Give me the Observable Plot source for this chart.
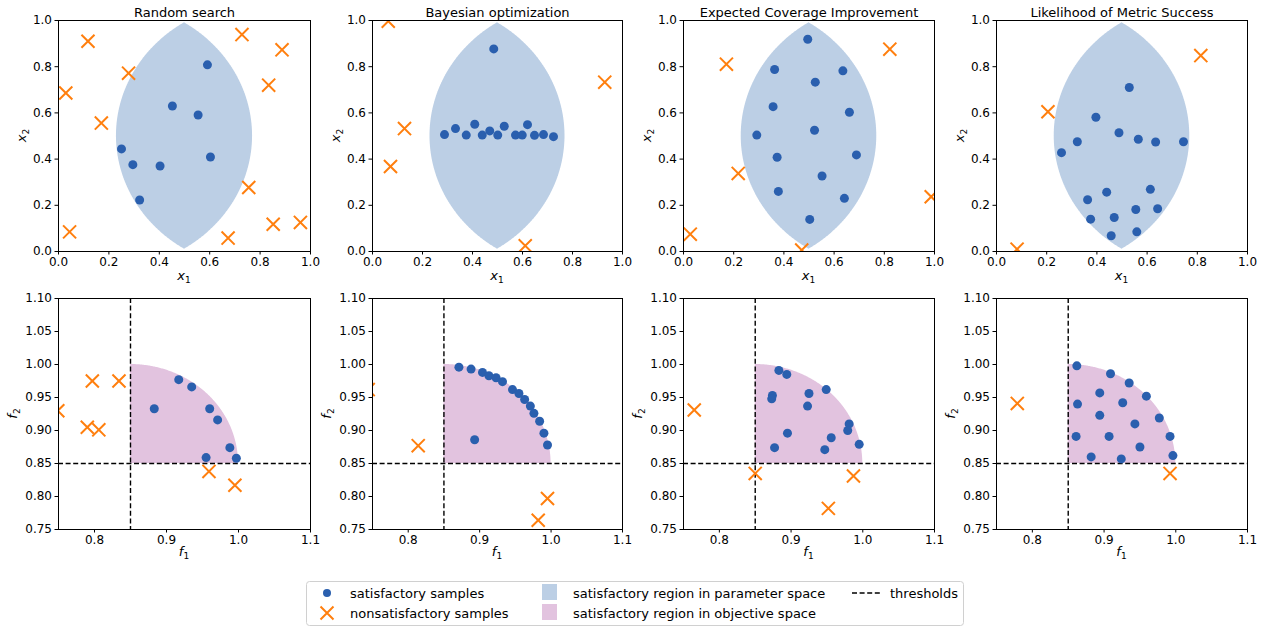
<!DOCTYPE html>
<html><head><meta charset="utf-8">
<script src="https://cdn.jsdelivr.net/npm/d3@7"></script>
<script src="https://cdn.jsdelivr.net/npm/@observablehq/plot@0.6"></script>
<style>
body{margin:0;background:#fff;font-family:"DejaVu Sans",sans-serif;}
#root{position:relative;width:1265px;height:627px;overflow:hidden;background:#fff;}
#root svg{position:absolute;overflow:visible;}
</style></head><body><div id="root"></div>
<script>
// ---------- data ----------
const titles = ["Random search", "Bayesian optimization", "Expected Coverage Improvement", "Likelihood of Metric Success"];

// parameter space (x1, x2)
const randomParamSat = [[0.591,0.808],[0.452,0.630],[0.554,0.591],[0.250,0.444],[0.603,0.409],[0.295,0.376],[0.403,0.370],[0.322,0.223]];
const randomParamUnsat = [[0.117,0.910],[0.728,0.939],[0.887,0.873],[0.278,0.772],[0.834,0.720],[0.029,0.686],[0.170,0.556],[0.755,0.277],[0.044,0.085],[0.673,0.058],[0.852,0.118],[0.960,0.126]];
const bayesParamSat = [[0.485,0.877],[0.288,0.506],[0.332,0.532],[0.375,0.504],[0.409,0.551],[0.439,0.504],[0.469,0.522],[0.501,0.504],[0.527,0.542],[0.572,0.504],[0.599,0.504],[0.620,0.549],[0.648,0.503],[0.684,0.506],[0.724,0.497]];
const bayesParamUnsat = [[0.063,0.997],[0.128,0.532],[0.072,0.368],[0.929,0.733],[0.611,0.025]];
const eciParamSat = [[0.495,0.919],[0.363,0.788],[0.635,0.782],[0.525,0.733],[0.357,0.627],[0.661,0.603],[0.522,0.525],[0.292,0.504],[0.373,0.408],[0.689,0.418],[0.552,0.327],[0.378,0.260],[0.641,0.230],[0.503,0.139]];
const eciParamUnsat = [[0.171,0.811],[0.822,0.876],[0.218,0.338],[0.027,0.075],[0.471,0.006],[0.987,0.237]];
const lmsParamSat = [[0.529,0.710],[0.396,0.581],[0.488,0.514],[0.565,0.486],[0.634,0.474],[0.745,0.475],[0.322,0.475],[0.259,0.428],[0.439,0.257],[0.613,0.269],[0.363,0.224],[0.375,0.140],[0.469,0.147],[0.555,0.182],[0.642,0.185],[0.457,0.068],[0.559,0.085]];
const lmsParamUnsat = [[0.205,0.605],[0.814,0.848],[0.082,0.010]];

// objective space (f1, f2)
const randomObjSat = [[0.917,0.977],[0.935,0.966],[0.883,0.933],[0.960,0.933],[0.971,0.916],[0.988,0.874],[0.955,0.859],[0.997,0.858]];
const randomObjUnsat = [[0.797,0.975],[0.834,0.975],[0.749,0.930],[0.790,0.905],[0.806,0.901],[0.959,0.838],[0.995,0.817]];
const bayesObjSat = [[0.871,0.996],[0.888,0.993],[0.904,0.988],[0.913,0.983],[0.923,0.980],[0.932,0.974],[0.946,0.962],[0.955,0.956],[0.963,0.947],[0.971,0.937],[0.976,0.926],[0.984,0.914],[0.990,0.896],[0.995,0.878],[0.893,0.886]];
const bayesObjUnsat = [[0.814,0.877],[0.995,0.797],[0.982,0.764],[0.744,0.962]];
const eciObjSat = [[0.883,0.991],[0.894,0.985],[0.949,0.962],[0.925,0.956],[0.874,0.953],[0.873,0.948],[0.923,0.937],[0.981,0.910],[0.979,0.900],[0.895,0.896],[0.956,0.889],[0.995,0.879],[0.877,0.874],[0.947,0.871]];
const eciObjUnsat = [[0.765,0.931],[0.850,0.835],[0.987,0.831],[0.952,0.782]];
const lmsObjSat = [[0.862,0.998],[0.909,0.986],[0.935,0.972],[0.894,0.957],[0.959,0.952],[0.863,0.940],[0.926,0.942],[0.894,0.923],[0.977,0.919],[0.943,0.910],[0.861,0.891],[0.907,0.891],[0.992,0.891],[0.950,0.875],[0.882,0.860],[0.924,0.857],[0.996,0.862]];
const lmsObjUnsat = [[0.779,0.941],[0.992,0.835]];

const thresholds = [0.85, 0.85];        // f1, f2 thresholds
const paramTicks = [0, 0.2, 0.4, 0.6, 0.8, 1.0];
const objXTicks = [0.8, 0.9, 1.0, 1.1];
const objYTicks = [0.75, 0.80, 0.85, 0.90, 0.95, 1.00, 1.05, 1.10];

// region geometry (two-circle lens in parameter space, quarter disc in objective space)
const lens = {cx: 0.5, cy: 0.5, offset: 0.31, radius: 0.58};
const quarter = {cx: 0.85, cy: 0.85, radius: 0.15};

// ---------- styles / layout ----------
const C_SAT = "#2a5fae", C_UNSAT = "#ff7f0e", C_PARAM = "#bccfe5", C_OBJ = "#e2c3df";
const frameX = [[58,252],[372,250],[683,251],[996,251]];
const frameY = [[20,231],[298,231]];
const M = {l: 60, r: 20, t: 22, b: 45};

const lensPts = d3.range(0, 201).map(i => {
  const hh = Math.sqrt(lens.radius**2 - lens.offset**2);
  const y = lens.cy - hh + 2*hh*i/200;
  const s = Math.sqrt(Math.max(0, lens.radius**2 - (y-lens.cy)**2));
  return {y, xl: lens.cx + lens.offset - s, xr: lens.cx - lens.offset + s};
});
const quarterPts = d3.range(0, 201).map(i => {
  const t = Math.PI/2 * i/200;
  return {x: quarter.cx + quarter.radius*Math.cos(t), y: quarter.cy + quarter.radius*Math.sin(t)};
});

const root = document.getElementById("root");

function panel(col, row, sat, unsat) {
  const [fx, w] = frameX[col];
  const [fy, h] = frameY[row];
  const isParam = row === 0;
  const marks = [];
  if (isParam) {
    marks.push(Plot.areaX(lensPts, {y: "y", x1: "xl", x2: "xr", fill: C_PARAM, curve: "linear"}));
  } else {
    marks.push(Plot.areaY(quarterPts, {x: "x", y1: quarter.cy, y2: "y", fill: C_OBJ, curve: "linear"}));
    marks.push(Plot.ruleX([thresholds[0]], {stroke: "black", strokeWidth: 1.4, strokeDasharray: "5,2.6", clip: true}));
    marks.push(Plot.ruleY([thresholds[1]], {stroke: "black", strokeWidth: 1.4, strokeDasharray: "5,2.6", clip: true}));
  }
  marks.push(Plot.dot(sat, {x: d => d[0], y: d => d[1], r: 4.5, fill: C_SAT, stroke: null, clip: true}));
  marks.push(Plot.dot(unsat, {x: d => d[0], y: d => d[1], r: 6, symbol: "times", stroke: C_UNSAT, strokeWidth: 2, clip: true}));
  marks.push(Plot.frame({stroke: "black", strokeWidth: 1}));
  marks.push(Plot.axisX({ticks: isParam ? paramTicks : objXTicks, tickFormat: d3.format(".1f"), tickSize: 3.5, tickPadding: 2.5, label: null}));
  marks.push(Plot.axisY({ticks: isParam ? paramTicks : objYTicks, tickFormat: d3.format(isParam ? ".1f" : ".2f"), tickSize: 3.5, tickPadding: 3, label: null}));
  if (isParam) {
    marks.push(Plot.text([titles[col]], {frameAnchor: "top", lineAnchor: "bottom", dy: -4, fontSize: 13}));
  }
  const svg = Plot.plot({
    width: M.l + w + M.r,
    height: M.t + h + M.b,
    marginLeft: M.l, marginRight: M.r, marginTop: M.t, marginBottom: M.b,
    x: {domain: isParam ? [0, 1] : [0.75, 1.1]},
    y: {domain: isParam ? [0, 1] : [0.75, 1.1]},
    style: {fontFamily: "DejaVu Sans", fontSize: "12px", color: "black", background: "transparent", overflow: "visible"},
    marks
  });
  svg.style.left = (fx - M.l) + "px";
  svg.style.top = (fy - M.t) + "px";
  const s = d3.select(svg);
  const sym = isParam ? "x" : "f";
  // x-axis label
  const tx = s.append("text").attr("x", M.l + w/2).attr("y", M.t + h + (isParam ? 29 : 27))
    .attr("text-anchor", "middle").attr("font-family", "DejaVu Sans").attr("font-size", 13).attr("fill", "black");
  tx.append("tspan").attr("font-style", "italic").text(sym);
  tx.append("tspan").attr("font-size", 9).attr("dy", 3).text("1");
  // y-axis label
  const yx = M.l - (isParam ? 32 : 41), yy = M.t + h/2;
  const ty = s.append("text").attr("transform", `translate(${yx},${yy}) rotate(-90)`)
    .attr("text-anchor", "middle").attr("font-family", "DejaVu Sans").attr("font-size", 13).attr("fill", "black");
  ty.append("tspan").attr("font-style", "italic").text(sym);
  ty.append("tspan").attr("font-size", 9).attr("dy", 3).text("2");
  root.appendChild(svg);
}

panel(0, 0, randomParamSat, randomParamUnsat);
panel(1, 0, bayesParamSat, bayesParamUnsat);
panel(2, 0, eciParamSat, eciParamUnsat);
panel(3, 0, lmsParamSat, lmsParamUnsat);
panel(0, 1, randomObjSat, randomObjUnsat);
panel(1, 1, bayesObjSat, bayesObjUnsat);
panel(2, 1, eciObjSat, eciObjUnsat);
panel(3, 1, lmsObjSat, lmsObjUnsat);

// ---------- legend ----------
const legendLabels = ["satisfactory samples", "nonsatisfactory samples", "satisfactory region in parameter space", "satisfactory region in objective space", "thresholds"];
const lg = d3.select(root).append("svg").attr("width", 660).attr("height", 46)
  .style("left", "306px").style("top", "581px");
lg.append("rect").attr("x", 0.5).attr("y", 0.5).attr("width", 657).attr("height", 44).attr("rx", 3)
  .attr("fill", "white").attr("stroke", "#d0d0d0");
const lt = (x, y, t) => lg.append("text").attr("x", x).attr("y", y).attr("dy", "0.35em")
  .attr("font-family", "DejaVu Sans").attr("font-size", 13).attr("fill", "black").text(t);
lg.append("circle").attr("cx", 21).attr("cy", 12).attr("r", 4).attr("fill", C_SAT);
lt(44, 12, legendLabels[0]);
lg.append("path").attr("d", "M14.5,25.5L27.5,38.5M14.5,38.5L27.5,25.5").attr("stroke", C_UNSAT).attr("stroke-width", 2);
lt(44, 32, legendLabels[1]);
lg.append("rect").attr("x", 236).attr("y", 3).attr("width", 15).attr("height", 16).attr("fill", C_PARAM);
lt(267, 12, legendLabels[2]);
lg.append("rect").attr("x", 236).attr("y", 23).attr("width", 15).attr("height", 16).attr("fill", C_OBJ);
lt(267, 32, legendLabels[3]);
lg.append("line").attr("x1", 546).attr("x2", 576).attr("y1", 12).attr("y2", 12).attr("stroke", "black").attr("stroke-width", 1.4).attr("stroke-dasharray", "5,2.6");
lt(584, 12, legendLabels[4]);
</script></body></html>
